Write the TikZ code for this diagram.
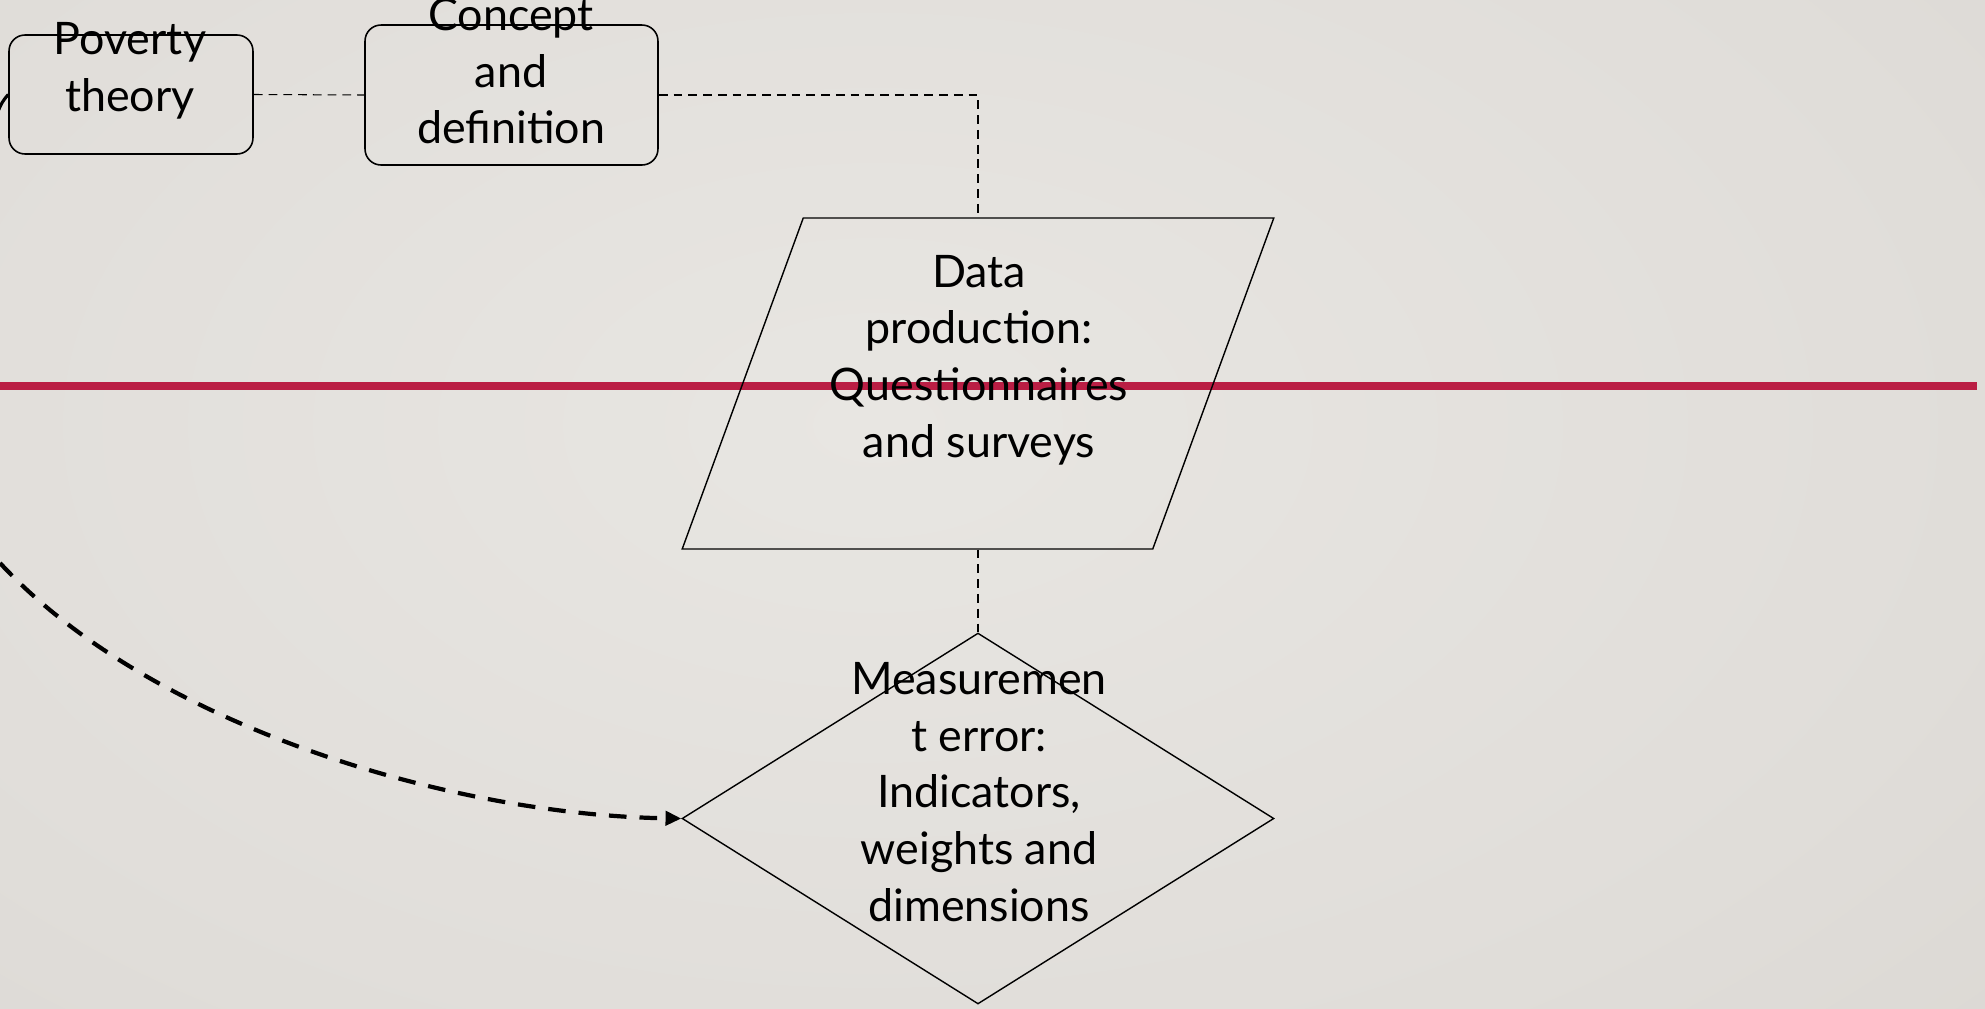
\documentclass[tikz,border=0pt]{standalone}
\usepackage{fontspec}
\setmainfont{Lato}
\usetikzlibrary{shapes.geometric,arrows.meta}

\definecolor{bgin}{RGB}{232,230,226}
\definecolor{bgmid}{RGB}{224,221,217}
\definecolor{bgedge}{RGB}{212,209,204}
\definecolor{bgcorner}{RGB}{204,200,195}
\definecolor{accentred}{RGB}{186,30,68}

% soft slide background, lighter in the middle
\pgfdeclareradialshading{slidebg}{\pgfpoint{0bp}{0bp}}{%
  color(0bp)=(bgin); color(25bp)=(bgmid); color(50bp)=(bgedge); color(71bp)=(bgcorner)}

\tikzset{
  flowbox/.style={draw=black, line width=0.9pt, rounded corners=0.32cm, inner sep=0pt},
  inputbox/.style={draw=black, line width=0.8pt, trapezium, trapezium stretches=true,
    trapezium left angle=70.9, trapezium right angle=109.1, inner sep=3pt},
  decisionbox/.style={draw=black, line width=0.8pt, diamond, inner sep=3pt},
  boxtext/.style={font=\fontsize{25.5}{32.3}\selectfont, align=center, inner sep=0pt, text=black},
  link/.style={draw=black, line width=0.6pt, dash pattern=on 5pt off 3.4pt},
  feedback/.style={draw=black, line width=2.4pt, dash pattern=on 10pt off 7.4pt,
    -{Triangle[length=9pt,width=8pt]}},
}

\begin{document}
\begin{tikzpicture}[x=0.02cm, y=-0.02cm]
  \begin{scope}
    \clip (0,0) rectangle (1985,1008);
    \shade[shading=slidebg] (-250,-250) rectangle (2000,1100);
  \end{scope}
  \useasboundingbox (0,0) rectangle (1985,1008);

  % section divider
  \draw[accentred, line width=4pt] (0,386) -- (1977,386);

  % shapes
  \node[flowbox, minimum width=4.88cm, minimum height=2.38cm] (pov) at (131,94.5) {};
  \node[flowbox, minimum width=5.86cm, minimum height=2.80cm] (con) at (511.5,95) {};
  \node[inputbox, minimum width=11.84cm, minimum height=6.62cm] (dat) at (978,383.5) {};
  \node[decisionbox, minimum width=11.84cm, minimum height=7.42cm] (mea) at (978,818.5) {};

  % labels
  \node[boxtext] (povtext) at (130,71) {Poverty\\theory};
  \node[boxtext] (context) at (511,71) {Concept\\and\\definition};
  \node[boxtext] (dattext) at (979,360) {Data\\production:\\Questionnaires\\and surveys};
  \node[boxtext] (meatext) at (979,792) {Measuremen\\t error:\\Indicators,\\weights and\\dimensions};

  % connectors
  \coordinate (bend) at (con.east -| dat.north);
  \draw[link] (pov.east) -- (con.west);
  \draw[link] (con.east) -- (bend) -- (dat.north);
  \draw[link] (dat.south) -- (mea.north);

  \coordinate (loopstart) at (-4,116);
  \draw[black, line width=1.8pt] (loopstart) .. controls (2,102) .. (pov.west);

  \coordinate (fbstart) at (0,563);
  \draw[feedback] (fbstart) .. controls (150,725) and (450,815) .. (mea.west);
\end{tikzpicture}
\end{document}
